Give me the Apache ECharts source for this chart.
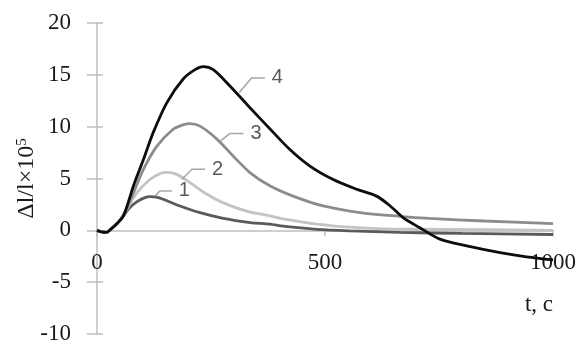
<!DOCTYPE html>
<html><head><meta charset="utf-8">
<script src="https://cdn.jsdelivr.net/npm/echarts@6/dist/echarts.min.js"></script>
<style>html,body{margin:0;padding:0;background:#fff}#c{width:582px;height:345px}</style>
</head><body><div id="c"></div>
<script>
// Curve data (time t in s, value Δl/l ×10^5)
const t1 = [0,10,20,30,45,58,70,87,105,116,130,145,182,226,277,336,379,408,482,555,664,800,1000];
const v1 = [0,-0.15,-0.2,0.1,0.7,1.4,2.1,2.75,3.15,3.25,3.2,3.0,2.35,1.7,1.15,0.75,0.6,0.4,0.1,-0.05,-0.2,-0.3,-0.4];
const t2 = [0,10,20,30,45,58,70,87,116,140,153,175,204,240,277,328,379,408,482,555,628,750,1000];
const v2 = [0,-0.15,-0.2,0.1,0.7,1.45,2.4,3.6,4.9,5.5,5.6,5.4,4.6,3.5,2.65,1.85,1.4,1.1,0.6,0.3,0.15,0.1,0.0];
const t3 = [0,10,20,30,45,58,70,80,102,131,167,190,204,226,263,299,336,379,430,496,577,664,730,850,1000];
const v3 = [0,-0.15,-0.2,0.1,0.7,1.5,2.6,3.6,5.9,8.1,9.75,10.2,10.3,10.05,8.8,7.15,5.55,4.3,3.3,2.35,1.7,1.35,1.15,0.9,0.65];
const t4 = [0,10,20,30,45,58,70,80,102,123,153,189,215,233,255,292,336,379,423,467,518,570,613,643,672,708,752,811,884,942,1000];
const v4 = [0,-0.15,-0.2,0.1,0.7,1.4,2.9,4.3,6.85,9.4,12.3,14.6,15.5,15.8,15.5,13.9,11.8,9.8,7.8,6.2,4.9,3.95,3.3,2.35,1.2,0.25,-0.85,-1.5,-2.15,-2.55,-2.85];

// Callout leader lines (data coordinates) and their labels
const calloutNames = ['1','2','3','4'];
const calloutT = [[127,138,164],[186,208,237],[270,292,321],[312,339,368]];
const calloutV = [[3.3,3.8,3.8],[4.9,5.9,5.9],[8.6,9.35,9.35],[13.3,14.7,14.7]];

// Axis ticks
const xMin = 0, xMax = 1000, xStep = 500;
const yMin = -10, yMax = 20, yStep = 5;

const zip = (a, b) => a.map((x, i) => [x, b[i]]);
const curveColors = ['#5a5a5a', '#c3c3c3', '#8c8c8c', '#0d0d0d'];
const curves = [[t1, v1], [t2, v2], [t3, v3], [t4, v4]];

const series = [];
curves.forEach((c, i) => {
  series.push({
    type: 'line', data: zip(c[0], c[1]), smooth: 0.3, symbol: 'none',
    lineStyle: { color: curveColors[i], width: 2.8 }, z: 3 + i
  });
});
calloutNames.forEach((n, i) => {
  series.push({
    type: 'line', data: zip(calloutT[i], calloutV[i]), symbol: 'none', smooth: false,
    lineStyle: { color: '#a6a6a6', width: 1.5 }, z: 10,
    endLabel: { show: true, formatter: n, distance: 7, color: '#595959',
      fontFamily: 'Liberation Sans', fontSize: 20 }
  });
});

const axisGray = '#bfbfbf';
const serif = 'Liberation Serif';
const txt = '#1a1a1a';
const chart = echarts.init(document.getElementById('c'));
const chartH = 345, gTop = 23, gBottom = 11;
const plotH = chartH - gTop - gBottom;
// upper grid ends at the y = 0 line so that its x axis sits on zero
const zeroBottom = gBottom + plotH * (0 - yMin) / (yMax - yMin);
chart.setOption({
  animation: false,
  backgroundColor: '#fff',
  grid: [
    { left: 97, right: 29, top: gTop, bottom: gBottom, containLabel: false, outerBoundsMode: 'none' },
    { left: 97, right: 29, top: gTop, bottom: zeroBottom, containLabel: false, outerBoundsMode: 'none' }
  ],
  xAxis: [{
    gridIndex: 0, type: 'value', min: xMin, max: xMax, interval: xStep, show: false
  }, {
    gridIndex: 1, type: 'value', min: xMin, max: xMax, interval: xStep, position: 'bottom',
    axisLine: { show: true, onZero: false, lineStyle: { color: axisGray, width: 1.5 } },
    axisTick: { show: true, length: 6, lineStyle: { color: axisGray, width: 1.5 } },
    splitLine: { show: false },
    axisLabel: { margin: 21, fontFamily: serif, fontSize: 23, color: txt,
      showMinLabel: true, showMaxLabel: true, formatter: v => String(v) },
    name: 't, c', nameLocation: 'end', nameMoveOverlap: false,
    nameTextStyle: { fontFamily: serif, fontSize: 23, color: txt,
      align: 'right', verticalAlign: 'top', padding: [63, 0, 0, 0] },
    nameGap: 0
  }],
  yAxis: [{
    gridIndex: 0, type: 'value', min: yMin, max: yMax, interval: yStep,
    axisLine: { show: true, onZero: false, lineStyle: { color: axisGray, width: 1.5 } },
    axisTick: { show: true, length: 10, lineStyle: { color: axisGray, width: 1.5 } },
    splitLine: { show: false },
    axisLabel: { margin: 26, fontFamily: serif, fontSize: 23, color: txt },
    name: '{a|Δl/l×10}{s|5}', nameLocation: 'middle', nameRotate: 90, nameGap: 58,
    nameMoveOverlap: false,
    nameTextStyle: { fontFamily: serif, fontSize: 24, color: txt,
      rich: { a: { fontFamily: serif, fontSize: 24, color: txt },
              s: { fontFamily: serif, fontSize: 15, color: txt, padding: [0, 0, 9, 0] } } }
  }, {
    gridIndex: 0, type: 'value', min: yMin, max: yMax, interval: yStep, position: 'left',
    axisLine: { show: false, onZero: false },
    axisTick: { show: true, inside: true, length: 6, lineStyle: { color: axisGray, width: 1.5 } },
    splitLine: { show: false }, axisLabel: { show: false }
  }, {
    gridIndex: 1, type: 'value', min: 0, max: yMax, show: false
  }],
  series: series
});
</script></body></html>
